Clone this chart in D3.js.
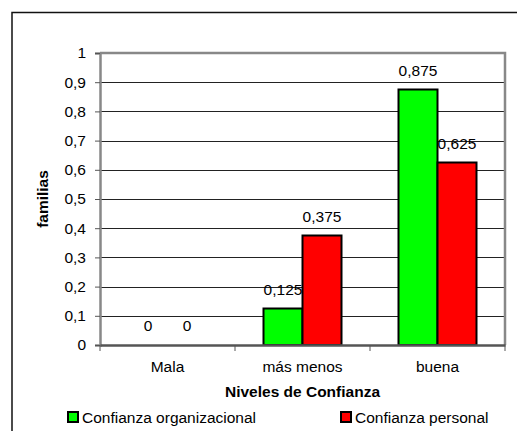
<!DOCTYPE html>
<html>
<head>
<meta charset="utf-8">
<script src="https://cdn.jsdelivr.net/npm/d3@7"></script>
<style>
  body { margin: 0; background: #fff; }
  text { font-family: "Liberation Sans", Arial, sans-serif; }
</style>
</head>
<body>
<div id="chart"></div>
<script>
var categories = ["Mala", "más menos", "buena"];
var seriesNames = ["Confianza organizacional", "Confianza personal"];
var organizacional = [0, 0.125, 0.875];
var personal = [0, 0.375, 0.625];
var yTicks = [0, 0.1, 0.2, 0.3, 0.4, 0.5, 0.6, 0.7, 0.8, 0.9, 1];
var colors = ["#00ff00", "#ff0000"];

var W = 517, H = 431;
var margin = {top: 53, right: 12, bottom: 86, left: 100},
    width = 505 - margin.left,
    height = 345 - margin.top;

var svg = d3.select("#chart").append("svg")
    .attr("width", W)
    .attr("height", H);

// outer frame (runs off right/bottom edge)
svg.append("rect")
    .attr("x", 12).attr("y", 12.5)
    .attr("width", 520).attr("height", 430)
    .attr("fill", "none").attr("stroke", "#111").attr("stroke-width", 1.5);

var g = svg.append("g").attr("transform", "translate(" + margin.left + "," + margin.top + ")");

var x0 = d3.scaleBand().domain(categories).range([0, width]);
var x1 = d3.scaleBand().domain(seriesNames).range([0, 78]);
var y = d3.scaleLinear().domain([0, 1]).range([height, 0]);

// gridlines
g.selectAll("line.grid")
    .data(yTicks.filter(function(d) { return d > 0 && d < 1; }))
    .enter().append("line")
    .attr("class", "grid")
    .attr("x1", 0).attr("x2", width)
    .attr("y1", function(d) { return Math.round(y(d)) + 0.5; })
    .attr("y2", function(d) { return Math.round(y(d)) + 0.5; })
    .attr("stroke", "#222").attr("stroke-width", 1.2);

// plot border top/right
g.append("path")
    .attr("d", "M0," + y(1) + "H" + width + "V" + height)
    .attr("fill", "none").attr("stroke", "#888").attr("stroke-width", 2.5);

// Y axis
var yAxis = g.append("g")
    .call(d3.axisLeft(y).tickValues(yTicks).tickSize(5).tickPadding(9)
      .tickFormat(function(d) { return d3.format(".1~f")(d).replace(".", ","); }));
yAxis.select(".domain").attr("stroke", "#888").attr("stroke-width", 2.5);
yAxis.selectAll(".tick line").attr("stroke", "#555");
yAxis.selectAll("text").attr("font-size", 15.5).attr("fill", "#000")
    .style("font-family", "'Liberation Sans', Arial, sans-serif");

// bars
var groups = g.selectAll("g.cat")
    .data(categories)
    .enter().append("g")
    .attr("class", "cat")
    .attr("transform", function(d) { return "translate(" + (x0(d) + x0.bandwidth() / 2 - 39) + ",0)"; });

var rows = categories.map(function(c, i) {
  return [{s: seriesNames[0], v: organizacional[i], c: colors[0]},
          {s: seriesNames[1], v: personal[i], c: colors[1]}];
});

groups.selectAll("rect")
    .data(function(d, i) { return rows[i].filter(function(r) { return r.v > 0; }); })
    .enter().append("rect")
    .attr("x", function(d) { return x1(d.s); })
    .attr("y", function(d) { return y(d.v); })
    .attr("width", x1.bandwidth())
    .attr("height", function(d) { return height - y(d.v); })
    .attr("fill", function(d) { return d.c; })
    .attr("stroke", "#000").attr("stroke-width", 2);

groups.selectAll("text.val")
    .data(function(d, i) { return rows[i]; })
    .enter().append("text")
    .attr("class", "val")
    .attr("x", function(d) { return x1(d.s) + x1.bandwidth() / 2; })
    .attr("y", function(d) { return y(d.v) - 14; })
    .attr("text-anchor", "middle")
    .attr("font-size", 15.5)
    .text(function(d) { return String(d.v).replace(".", ","); });

// X axis
var xAxis = g.append("g")
    .attr("transform", "translate(0," + height + ")")
    .call(d3.axisBottom(x0).tickSize(0).tickPadding(16));
xAxis.select(".domain").attr("stroke", "#555").attr("stroke-width", 2.5);
xAxis.selectAll("text").attr("font-size", 15.5).attr("fill", "#000")
    .style("font-family", "'Liberation Sans', Arial, sans-serif");
g.selectAll("line.xtick")
    .data([0, 1, 2, 3])
    .enter().append("line")
    .attr("class", "xtick")
    .attr("x1", function(d) { return d * x0.step(); })
    .attr("x2", function(d) { return d * x0.step(); })
    .attr("y1", height).attr("y2", height + 6)
    .attr("stroke", "#555");

// axis titles
svg.append("text")
    .attr("x", margin.left + width / 2).attr("y", 397)
    .attr("text-anchor", "middle")
    .attr("font-size", 15.5).attr("font-weight", "bold")
    .text("Niveles de Confianza");

svg.append("text")
    .attr("transform", "translate(48,199) rotate(-90)")
    .attr("text-anchor", "middle")
    .attr("font-size", 15.5).attr("font-weight", "bold")
    .text("familias");

// legend
var legendX = [68, 341];
var legend = svg.selectAll("g.leg")
    .data(seriesNames)
    .enter().append("g")
    .attr("class", "leg")
    .attr("transform", function(d, i) { return "translate(" + legendX[i] + ",412)"; });
legend.append("rect")
    .attr("width", 10).attr("height", 10)
    .attr("fill", function(d, i) { return colors[i]; })
    .attr("stroke", "#000").attr("stroke-width", 2);
legend.append("text")
    .attr("x", 14).attr("y", 10.5)
    .attr("font-size", 15.5)
    .text(function(d) { return d; });
</script>
</body>
</html>
